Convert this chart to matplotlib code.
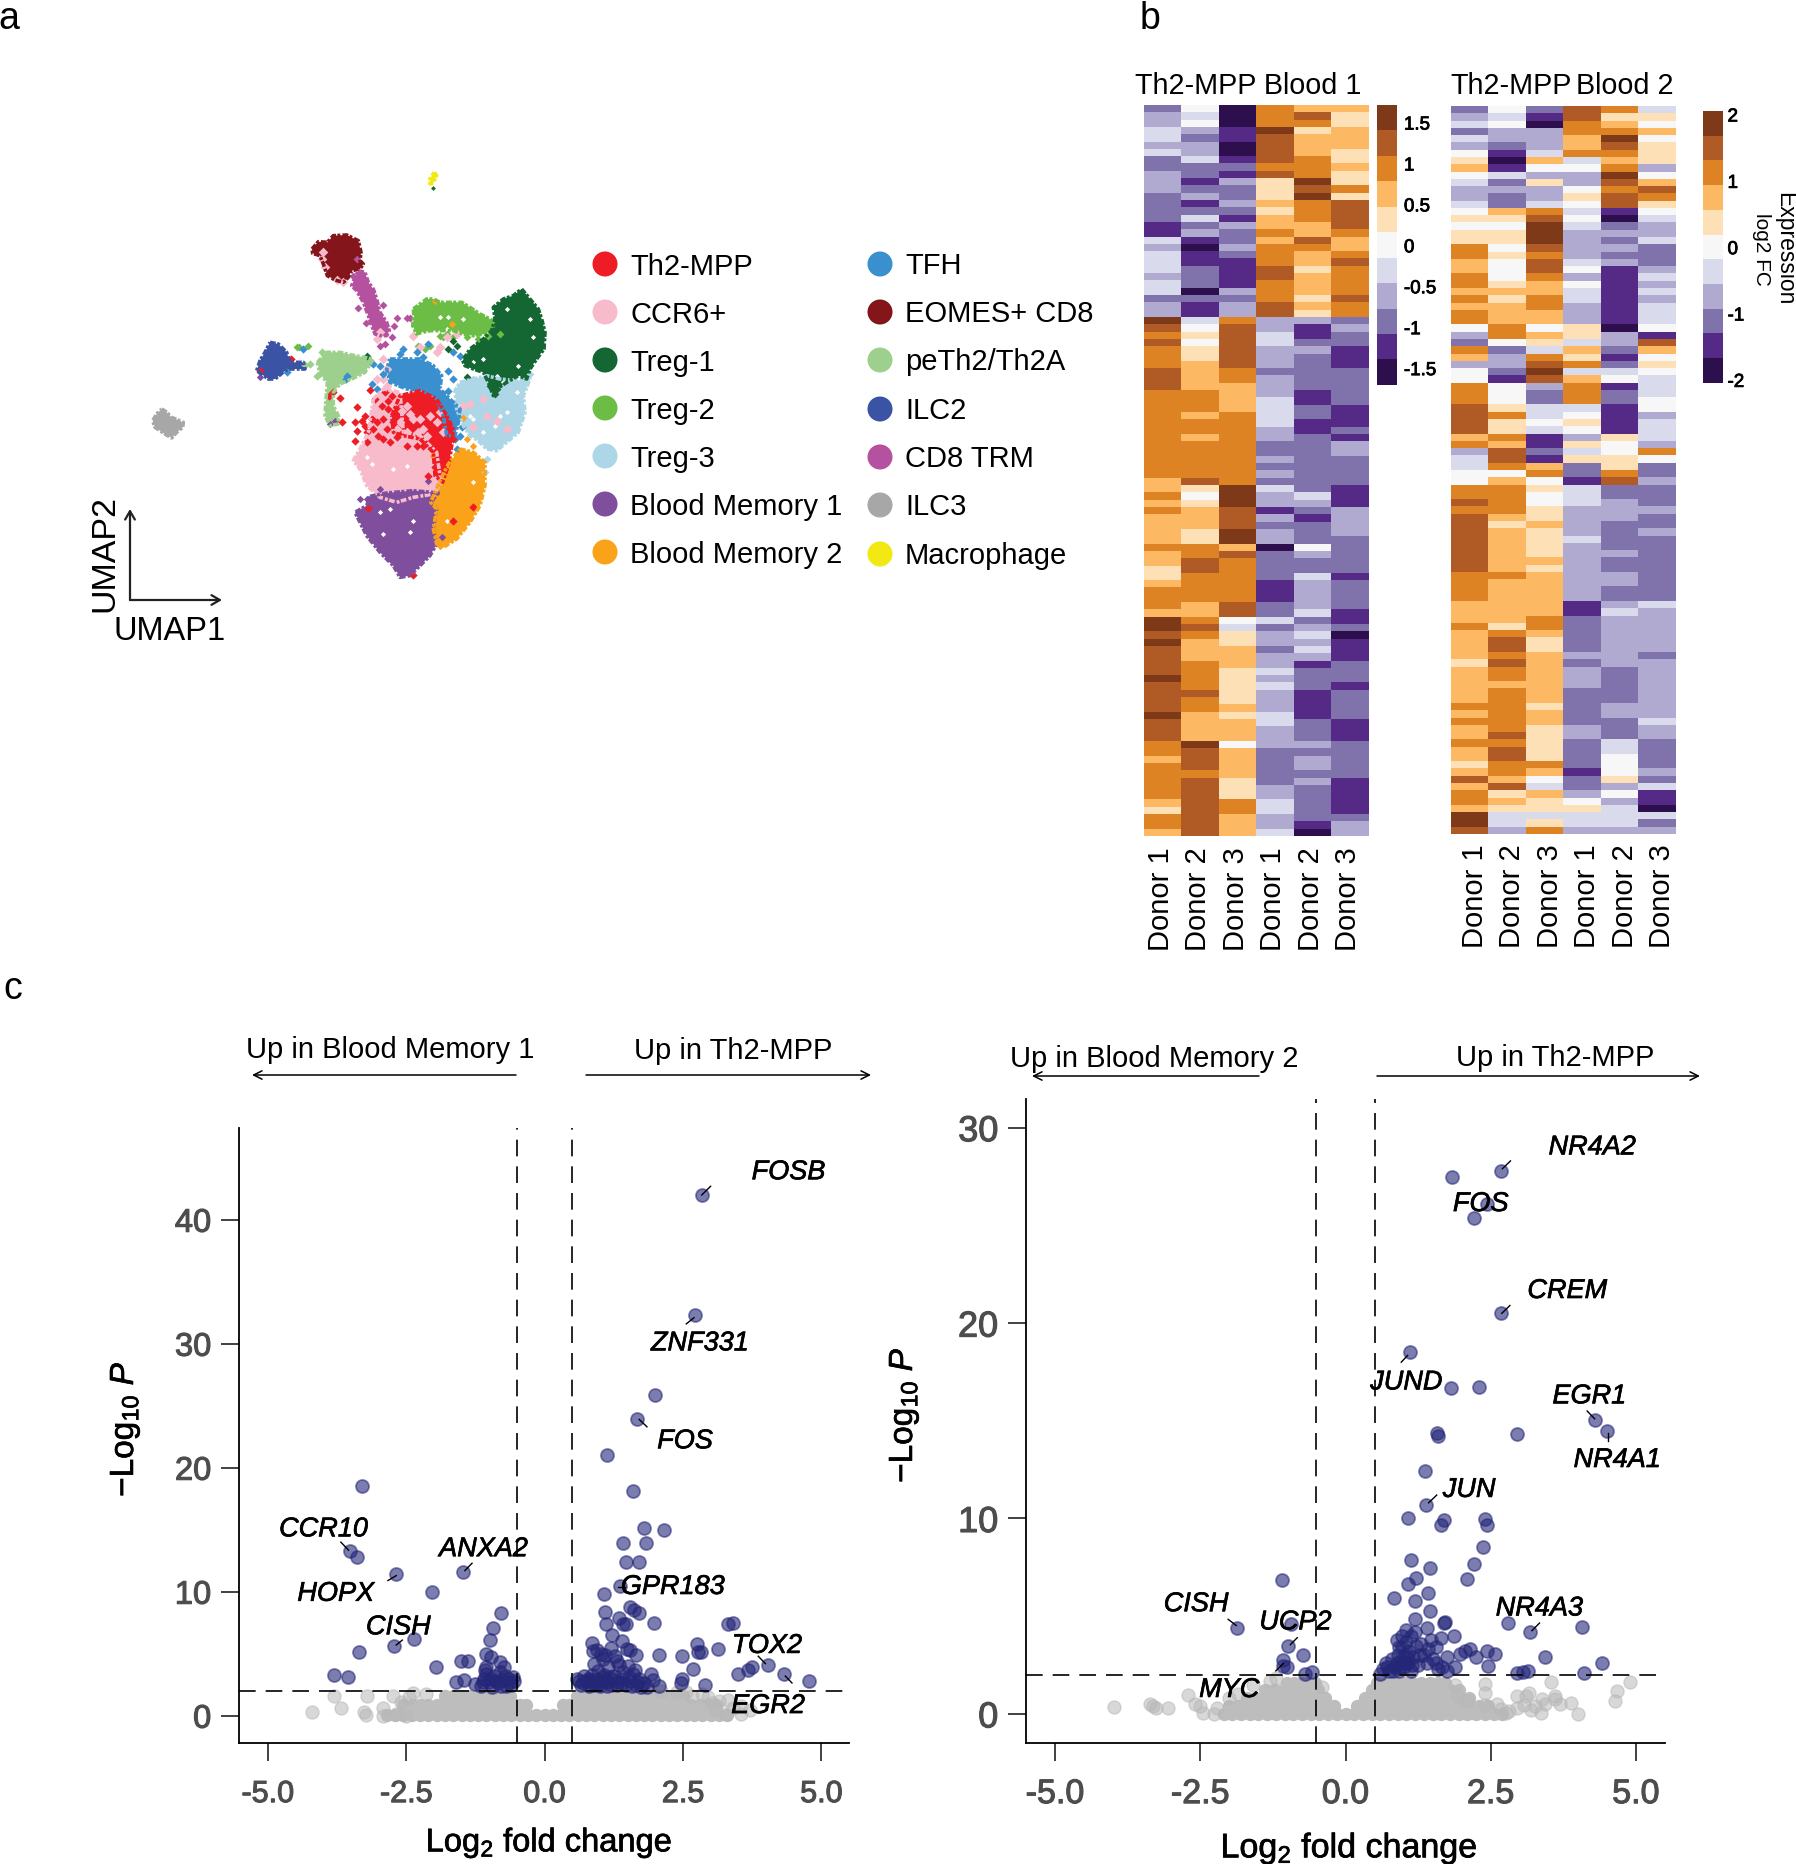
import re
import numpy as np
import matplotlib
matplotlib.use("Agg")
import matplotlib.pyplot as plt
from matplotlib.colors import ListedColormap
from matplotlib.patheffects import withStroke

plt.rcParams['font.family'] = ['Liberation Sans', 'DejaVu Sans']
plt.rcParams['mathtext.fontset'] = 'custom'
plt.rcParams['mathtext.rm'] = 'Liberation Sans'
plt.rcParams['mathtext.it'] = 'Liberation Sans:italic'
plt.rcParams['mathtext.bf'] = 'Liberation Sans:bold'

W, H = 1796, 1865

# ---------- heat map data: run-length coded levels (a = lowest ... k = highest) per column
level_letters = "abcdefghijk"
level_colors = ['#2d0f4e', '#542a86', '#8073ac', '#b0a9d0', '#d9daeb', '#f7f7f7',
                '#fde0b5', '#fdb863', '#dd8324', '#b05a25', '#7e3a18']
hm1_donors = ['Donor 1', 'Donor 2', 'Donor 3', 'Donor 1', 'Donor 2', 'Donor 3']
hm1_col1 = "c1 d2 e2 d1 e1 c2 d3 c4 b2 e1 d1 e3 d1 e2 c1 d2 k1 j1 i1 j1 i3 j3 i12 h2 i1 h1 i1 h4 i1 h2 g2 h1 i3 h1 k2 j1 k1 j4 k1 j4 k1 j3 i2 h1 i5 h1 g1 i2 h1"
hm1_col2 = "f1 e1 f1 d1 c1 d2 e1 c2 b1 c1 d1 b1 c1 e1 c1 d1 b1 a1 b2 c3 a1 c1 b2 e1 f1 g1 f1 g2 h4 i3 h1 i2 h1 i5 j1 g1 f1 g1 h3 g2 i2 j2 i4 h2 i1 j1 i1 h3 i4 j1 i2 h4 k1 j3 i1 j8"
hm1_col3 = "a3 b2 a2 b1 c1 b1 d1 c2 d1 c1 b1 d1 c2 d1 c1 b4 d1 c1 d2 i1 j6 i2 h4 i10 k3 j3 k2 h1 j1 i6 j2 f1 e1 g2 h3 g5 h1 g1 h3 f1 h4 g3 i2 h3"
hm1_col4 = "i3 k1 j4 i1 j1 g3 h1 g1 h2 i1 h1 i3 j2 i3 j2 d2 e2 d3 c1 d3 e4 d2 c2 d1 c1 d1 c1 e1 d2 b1 d1 c1 d2 a1 c4 b3 c2 e1 c1 d2 c1 d2 e1 d1 e1 d3 e2 d3 c5 d2 e2 d2 e1"
hm1_col5 = "h1 j1 i1 g1 h3 i3 k1 j1 k1 i3 h2 j1 i1 h2 g1 h3 g1 h1 g1 d1 b2 c1 d1 c5 b2 c2 b2 c8 e1 d1 c1 b1 c3 f1 d1 c2 e1 d4 e1 c1 d1 e1 d1 e1 d1 b1 c3 b4 c3 d1 c1 d2 c1 d1 c5 b1 a1"
hm1_col6 = "h1 g2 h3 g2 h1 g2 i1 g1 j4 i1 h2 i1 j1 i4 j1 i2 c1 d1 c2 b3 c5 b3 c1 b1 d2 c4 b3 d4 c5 b1 c4 b2 c1 a1 b3 c3 b1 c4 b3 c5 b5 c1 d2"
hm2_col1 = "c1 d1 e1 c1 e1 d1 f1 g1 h1 f1 e1 d2 e1 f1 g1 f1 g2 i2 h2 i2 h1 i1 h1 i2 f1 d1 c1 i1 h1 d1 f2 i3 j4 h1 i1 d1 e2 f2 i2 j1 i1 j8 i4 h3 i1 h4 g1 h5 i1 h1 i1 h2 i1 h2 g1 h1 j1 h1 i2 h1 k2 j1"
hm2_col2 = "f1 e1 f1 d2 c1 b1 a1 b1 e1 c1 d1 c2 h1 g1 f1 g2 f1 g1 f3 g1 h1 g1 h3 i2 f1 c1 d2 c1 b1 f3 g1 i1 g2 i1 h1 j2 i1 f1 h1 i4 h1 g1 h6 i1 h6 g1 i1 j2 i1 j1 i2 h1 i6 j1 i1 j2 i2 h1 j1 g1 h1 g1 e2 d1"
hm2_col3 = "c1 b1 a1 d3 e1 h1 f1 d1 g1 d2 e1 i1 j1 k3 j1 i1 j2 i1 h2 i2 h2 f1 h1 g1 e1 i1 j1 k1 j1 d1 c2 e2 f1 e1 b2 c1 b1 h1 i1 f1 g1 f2 g2 h1 g4 h1 g1 h6 i2 h1 g2 h7 g1 h2 g5 i1 h1 f1 e1 h1 g2 e1 g1 i1"
hm2_col4 = "j2 i2 h2 i1 e1 f1 d2 f1 g1 f1 e1 f1 e1 d4 e1 f1 d1 f1 e2 d3 g2 e1 h1 g1 i1 e1 h1 i3 e1 f1 g1 f1 d1 g1 e1 g1 c2 b1 e3 d4 e1 d8 b2 c5 d1 c1 d3 c5 d2 c4 b1 c2 d1 f1 g1 e2 d1"
hm2_col5 = "i1 g1 h1 i1 k1 j1 i1 h1 i1 k1 j1 i1 j2 b1 a1 c1 d1 c1 d1 c1 d1 b8 a1 d2 c1 b1 c1 e1 f1 b1 c2 b4 g1 f2 g2 i1 j1 c2 d3 c4 d1 c2 d2 c2 d1 e1 d7 c5 d2 c3 e2 f3 g1 d1 f1 d1 e3 d1"
hm2_col6 = "e1 g1 f1 h1 f1 g3 d1 f1 h1 j1 i1 g1 f1 e1 d2 e1 c3 d1 e1 d1 e1 d1 e3 f1 b1 j1 h1 f1 g1 f1 e3 f2 d1 e3 d1 i1 f1 c2 d1 c3 d1 c2 d1 c9 e1 d6 c1 d8 e1 d2 c4 d1 c1 e1 b2 a1 e1 c1 d1"

cbar1_ticks = [1.5, 1, 0.5, 0, -0.5, -1, -1.5]
cbar1_labels = ['1.5', '1', '0.5', '0', '-0.5', '-1', '-1.5']
cbar2_ticks = [2, 1, 0, -1, -2]
cbar2_labels = ['2', '1', '0', '-1', '-2']

# ---------- UMAP data: cluster outlines and stray cells (embedding, y grows downward)
legend_col1 = ['Th2-MPP', 'CCR6+', 'Treg-1', 'Treg-2', 'Treg-3', 'Blood Memory 1', 'Blood Memory 2']
legend_col1_colors = ['#ee1c25', '#f8bbcb', '#146633', '#6cbd45', '#add6e6', '#7f4e9c', '#f9a21a']
legend_col2 = ['TFH', 'EOMES+ CD8', 'peTh2/Th2A', 'ILC2', 'CD8 TRM', 'ILC3', 'Macrophage']
legend_col2_colors = ['#3a90cf', '#84151a', '#9ed08d', '#3a53a4', '#b5529f', '#a7a7a7', '#f2e814']

outline_eomes = [(216,90),(235,68),(262,70),(280,50),(320,48),(355,65),(363,100),(360,125),(370,135),(360,150),(335,155),(325,175),(310,190),(285,183),(262,170),(250,135),(240,110),(218,103)]
outline_trm = [(355,155),(375,160),(385,190),(400,210),(410,240),(420,280),(440,310),(448,335),(440,350),(420,350),(405,345),(395,320),(385,290),(370,250),(350,215),(335,200),(345,175)]
outline_treg2 = [(520,270),(540,255),(560,240),(580,240),(600,250),(630,250),(665,250),(690,265),(720,285),(760,305),(760,330),(735,345),(700,350),(670,345),(640,335),(600,335),(570,335),(545,340),(530,345),(518,320),(522,295)]
outline_treg3 = [(660,490),(740,470),(780,480),(830,485),(870,480),(850,530),(855,580),(835,640),(800,670),(770,695),(740,690),(715,665),(690,650),(670,620),(650,570),(645,515)]
outline_treg1 = [(845,210),(870,240),(895,270),(905,300),(915,340),(912,390),(890,420),(870,450),(860,480),(835,470),(800,490),(770,510),(760,530),(745,490),(730,460),(700,450),(675,440),(668,425),(690,390),(730,360),(755,335),(765,300),(760,265),(790,240),(820,230)]
outline_tfh = [(450,420),(490,420),(540,420),(580,440),(605,470),(600,510),(620,530),(660,570),(655,610),(645,650),(620,650),(610,590),(590,540),(550,515),(500,510),(450,490),(440,450)]
outline_ccr6 = [(400,540),(430,510),(480,520),(490,640),(540,650),(590,700),(600,770),(605,790),(580,825),(520,835),(470,850),(420,835),(380,800),(360,750),(340,725),(360,690),(385,640)]
outline_th2 = [(455,590),(480,530),(540,515),(590,540),(620,590),(640,630),(635,680),(628,730),(608,790),(585,770),(580,700),(540,660),(490,650),(460,640)]
outline_bm2 = [(660,690),(700,700),(735,730),(735,800),(720,860),(690,910),(650,960),(610,985),(590,975),(580,930),(590,870),(572,850),(600,785),(625,735)]
outline_bm1 = [(390,832),(440,822),(520,815),(595,822),(572,850),(590,870),(580,930),(590,975),(570,1010),(530,1050),(510,1070),(480,1075),(460,1040),(420,1000),(380,950),(345,880),(380,860)]
outline_peth2 = [(232,430),(260,400),(300,400),(345,410),(400,420),(375,460),(335,480),(300,495),(280,520),(280,560),(295,590),(295,615),(270,620),(255,590),(258,540),(262,490),(240,465)]
outline_ilc2 = [(90,370),(115,375),(140,400),(150,430),(190,430),(195,450),(150,450),(135,455),(105,480),(85,480),(50,455),(60,425),(75,400)]
outline_ilc3 = [(-235,570),(-222,578),(-205,595),(-170,610),(-172,625),(-190,640),(-205,657),(-225,645),(-255,625),(-262,605),(-250,585)]
outline_macro = [(583,-140),(590,-130),(580,-108),(570,-105),(570,-122)]

stray_pink = [(420,535),(410,580),(500,560),(520,600),(570,590),(590,610),(500,640),(535,640),(520,660),(430,420),(440,450),(430,480),(410,480),(440,500),(590,400),(600,385),(620,355),(650,345),(520,350),(540,385),(690,555),(730,540),(740,590),(700,625),(770,605),(800,630),(670,560),(250,100),(245,120),(255,145),(290,182),(310,188),(420,340),(410,360),(470,545),(485,575),(510,585),(550,630),(560,650),(610,640),(480,610),(470,630),(600,580),(540,600)]
stray_red = [(350,565),(345,610),(365,605),(350,635),(345,665),(380,640),(405,540),(390,512),(435,520),(470,655),(450,670),(430,660),(380,670),(280,520),(268,532),(300,537),(307,610),(60,457),(152,420),(565,770),(520,1067),(640,905),(700,865),(385,868),(600,680),(590,720),(585,745),(620,700),(640,660),(375,590),(395,600),(410,610),(430,600),(445,570),(425,560),(455,530),(440,630),(400,630),(415,650),(375,620),(460,610),(445,545),(550,680),(530,680),(500,680),(575,690)]
stray_blue = [(400,435),(395,495),(410,510),(490,390),(480,405),(530,400),(565,375),(550,415),(640,400),(660,410),(625,455),(640,480),(625,515),(320,470),(318,480),(660,650),(650,690),(645,660),(140,458),(190,390),(635,560),(655,595),(665,625),(430,465),(420,440)]
stray_white = [(700,600),(690,590),(780,590),(800,580),(730,640),(765,620),(830,520),(660,560),(800,270),(870,300),(880,355),(835,440),(770,470),(730,420),(700,430),(790,490),(460,750),(500,740),(395,735),(380,715),(360,780),(430,945),(520,905),(450,870),(510,940),(420,880),(620,905),(700,790),(600,295),(625,295),(670,300),(620,330)]
stray_treg1 = [(680,420),(720,440),(650,380),(625,390),(680,475),(770,510),(382,412),(640,365),(700,400),(750,500),(765,525),(720,400),(690,435)]
stray_purple = [(360,840),(380,840),(450,1020),(270,615),(285,605),(60,475),(510,1030),(420,810),(565,785),(605,955)]
stray_trm = [(355,268),(430,258),(378,312),(462,320),(455,355),(470,296),(500,296),(510,298),(435,375),(420,380),(340,170),(352,120)]
stray_orange = [(585,245),(636,316),(680,660),(700,680),(668,597),(580,712),(600,980)]
stray_treg2 = [(610,355),(640,355),(715,360),(780,345),(170,385),(178,385),(205,380),(555,390),(535,380),(570,380),(600,350),(620,345),(680,355),(745,350)]
stray_peth2 = [(245,400),(232,470),(210,435),(195,437),(270,555)]
stray_treg3 = [(740,720),(735,760),(870,465),(690,520),(660,520),(700,480)]
stray_macro_green = [(579,-92)]
umap_arrow_x = [0, 92]
umap_arrow_y = [0, 91]

# ---------- volcano data, left panel
v1_xticks = [-5.0, -2.5, 0.0, 2.5, 5.0]
v1_yticks = [0, 10, 20, 30, 40]
v1_blue = [(2.84,42),(2.72,32.3),(2.0,25.9),(1.67,23.9),(1.12,21),(1.6,18.1),(1.79,15.1),(2.16,15.0),(1.41,13.9),(1.84,13.9),(1.48,12.4),(1.7,12.4),(1.37,10.5),(1.08,9.8),(1.54,8.8),(1.61,8.5),(1.71,8.3),(1.1,8.4),(1.35,7.9),(1.11,7.4),(1.98,7.5),(1.41,7.4),(1.48,7.4),(1.22,6.5),(3.31,7.4),(3.4,7.5),(.86,5.9),(1.4,6.0),(2.75,5.8),(3.13,5.4),(2.77,5.1),(2.83,5.1),(2.49,4.8),(2.07,4.9),(1.49,5.4),(1.54,5.3),(1.66,4.9),(1.2,5.5),(2.68,3.8),(4.03,4.1),(3.75,3.9),(3.68,3.7),(3.49,3.35),(4.33,3.35),(4.77,2.8),(2.89,2.5),(2.48,2.95),(2.46,2.6),(1.93,3.4),(1.63,3.7),(1.96,2.9),(2.06,2.4),
           (-3.3,18.5),(-3.52,13.3),(-3.39,12.8),(-2.68,11.4),(-1.47,11.6),(-2.03,10),(-.79,8.3),(-.93,7.1),(-.98,6.1),(-2.35,6.2),(-2.72,5.6),(-3.36,5.1),(-3.8,3.3),(-3.55,3.1),(-1.96,3.9),(-1.51,4.4),(-1.38,4.4),(-1.06,5),(-.97,4.7),(-.8,4.3),(-.73,3.9),(-1.6,2.75),(-1.45,2.9),(-1.07,3.7),(-1.05,3.9),(-.57,3.15),(-1.26,2.55),
           (-1.15,2.4),(-1.1,3.0),(-1.05,3.4),(-1.0,2.7),(-.95,2.3),(-.9,3.2),(-.85,2.6),(-.8,3.5),(-.75,2.9),(-.7,2.4),(-.65,3.0),(-.6,2.5),(-.55,2.8),(-1.12,2.7),(-.98,3.0),(-.88,2.8),(-.78,2.4),(-.72,3.2),(-.62,2.7),
           (.58,3.0),(.65,2.5),(.72,3.2),(.8,2.4),(.85,3.3),(.9,4.2),(.92,2.7),(.97,3.6),(1.0,2.4),(1.02,5.0),(1.05,4.6),(1.08,3.3),(1.1,2.8),(1.15,3.9),(1.2,2.5),(1.25,3.2),(1.27,4.8),(1.3,4.4),(1.35,4.1),(1.4,2.6),(1.42,3.5),(1.5,4.0),(1.55,2.8),(1.6,3.4),(1.65,2.5),(1.7,3.0),(1.75,2.3),(1.8,2.6),(.88,5.2),(.95,5.3),(1.1,4.9),(.62,2.8),(.7,2.6),(.78,3.0),(.88,2.6),(.95,3.0),(1.03,2.8),(1.12,2.4),(1.18,3.1),(1.33,2.7),(1.47,2.5),(1.58,2.4),(1.85,2.3),(.75,2.8),(.83,2.9),(.9,2.45),(.98,2.6),(1.05,3.1),(1.15,2.7),(1.22,2.9),(1.3,2.5),(1.4,3.0),(1.52,3.1),(1.68,2.7)]
v1_gray_fringe = [(-4.2,.3),(-3.81,1.57),(-3.67,.6),(-3.2,1.57),(-3.27,.28),(-3.23,.08),(-2.92,0),(-2.92,.6),(-2.69,.12),(-2.51,0),(-2.74,1.57),(-2.37,1.85),(-2.14,1.77),(-2.6,1.1),(-2.45,1.5),(3.32,1.3),(3.27,.12),(3.54,.12),(3.72,.5),(3.03,1),(3.16,1.18),(2.84,1.77),(2.66,1.57),(3.55,.8),(2.1,1.97),(3.4,.6),(2.95,1.5),(3.1,.5),(2.4,1.9),(2.55,1.95)]
v1_gray_row0_x = [-2.85,-2.7,-2.55,-2.4,-2.25,-2.1,-1.95,-1.8,-1.65,-1.5,-1.35,-1.2,-1.05,-.9,-.75,-.6,-.45,-.3,-.15,0,.15,.3,.45,.6,.75,.9,1.05,1.2,1.35,1.5,1.65,1.8,1.95,2.1,2.25,2.4,2.55,2.7,2.85,3.0,3.15,3.3]
v1_gray_row1_x = [-2.55,-2.4,-2.25,-2.1,-1.95,-1.8,-1.65,-1.5,-1.35,-1.2,-1.05,-.9,-.75,-.6,-.45,-.33,.33,.45,.55,.7,.85,1.0,1.15,1.3,1.45,1.6,1.75,1.9,2.05,2.2,2.35,2.5,2.65,2.8,2.95,3.1]
v1_gray_row2_x = [-1.8,-1.65,-1.5,-1.35,-1.2,-1.05,-.9,-.75,-.62,.58,.7,.85,1.0,1.15,1.3,1.45,1.6,1.75,1.9,2.05,2.2,2.35,2.5]
v1_labels = ['FOSB','ZNF331','FOS','CCR10','ANXA2','HOPX','GPR183','CISH','TOX2','EGR2']
v1_label_x = [4.41,2.81,2.54,-3.99,-1.1,-3.77,2.32,-2.64,4.02,4.04]
v1_label_y = [44,30.2,22.3,15.2,13.6,10,10.55,7.3,5.8,.95]
v1_leaders = [(3.0,42.7,2.84,42),(2.56,31.6,2.7,32.1),(1.85,23.3,1.71,23.9),(-3.68,14,-3.54,13.35),(-1.31,12.3,-1.44,11.7),(-2.83,10.9,-2.68,11.3),(1.32,10.35,1.46,10.35),(-2.57,6.1,-2.68,5.7),(3.86,4.8,3.99,4.2),(4.47,2.64,4.35,3.2)]

# ---------- volcano data, right panel
v2_xticks = [-5.0, -2.5, 0.0, 2.5, 5.0]
v2_yticks = [0, 10, 20, 30]
v2_blue = [(2.68,27.8),(1.84,27.5),(2.43,26.1),(2.22,25.4),(2.67,20.5),(1.11,18.5),(1.82,16.7),(2.29,16.75),(4.3,15.05),(4.51,14.5),(2.96,14.3),(1.58,14.4),(1.6,14.2),(1.37,12.45),(1.39,10.7),(1.08,10),(1.69,9.9),(1.65,9.65),(2.4,9.95),(2.43,9.65),(2.37,8.55),(1.12,7.87),(2.21,7.66),(1.45,7.47),(2.1,6.9),(1.21,6.97),(1.07,6.65),(1.42,6.2),(.84,5.93),(1.2,5.8),(1.46,5.27),(1.2,4.87),(1.71,4.7),(1.69,4.63),(2.8,4.63),(4.07,4.44),(3.18,4.18),(1.05,4.3),(1.4,4.4),(1.86,4.0),(3.44,2.93),(4.41,2.63),(4.11,2.07),(3.14,2.2),(3.05,2.15),(2.96,2.1),(2.46,2.47),(2.44,3.2),(2.57,3.06),(2.25,2.93),(2.15,3.32),(2.06,3.2),(1.97,3.06),(1.89,2.4),(1.66,2.4),
           (-1.86,4.4),(-1.09,6.83),(-.93,4.6),(-.99,3.46),(-.74,3.0),(-1.07,2.74),(-1.08,2.47),(-.58,2.13),(-.69,2.05),(-1.01,2.4),
           (.65,2.3),(.7,2.6),(.75,2.2),(.8,2.8),(.85,2.4),(.9,3.0),(.92,2.2),(.95,2.7),(.97,3.4),(1.0,2.4),(1.02,3.0),(1.05,3.7),(1.08,2.6),(1.1,3.2),(1.13,2.2),(1.17,2.9),(1.2,4.2),(1.22,3.5),(1.25,2.5),(1.3,3.6),(1.35,3.0),(1.42,3.3),(1.48,3.8),(1.5,2.8),(1.55,3.4),(1.6,2.3),(1.65,3.9),(1.75,2.2),(.88,3.8),(.98,4.0),(1.12,4.0),(.6,2.05),(.72,2.4),(.82,2.2),(.88,2.6),(.94,2.4),(1.02,2.6),(1.06,2.9),(1.15,2.5),(1.28,3.0),(1.4,2.6),(1.55,2.6),(1.75,2.9),(.92,3.4)]
v2_gray_fringe = [(-3.99,.35),(-3.37,.53),(-3.31,.4),(-3.26,.32),(-3.06,.32),(-2.71,.96),(-2.59,.53),(-2.5,.4),(-2.45,.05),(-2.27,0),(-2.21,.32),(-2.0,.8),(-1.85,1.0),(-1.6,1.5),(-1.3,1.7),(-1.2,1.85),(-.4,1.4),(4.9,1.65),(4.67,1.17),(4.64,.64),(3.53,1.65),(3.89,.58),(4.0,0),(3.69,.53),(3.61,.9),(3.39,.74),(3.36,.05),(3.16,1.06),(2.96,.9),(3.07,.48),(2.81,.13),(2.68,.27),(2.6,.53),(2.41,1.54),(2.41,1.06),(1.93,.93),(2.1,.66),(1.88,1.46),(2.76,.05),(2.41,.45),(3.44,.5),(3.26,.4),(3.6,.75),(2.95,.3),(3.1,.9),(3.2,.2)]
v2_gray_row0_x = [-2.1,-1.95,-1.8,-1.65,-1.5,-1.35,-1.2,-1.05,-.9,-.75,-.6,-.45,-.3,-.15,0,.15,.3,.45,.6,.75,.9,1.05,1.2,1.35,1.5,1.65,1.8,1.95,2.1,2.25,2.4,2.55,2.7]
v2_gray_row1_x = [-2.0,-1.85,-1.7,-1.55,-1.4,-1.25,-1.1,-.95,-.8,-.65,-.5,-.35,-.2,.2,.35,.5,.65,.8,.95,1.1,1.25,1.4,1.55,1.7,1.85,2.0,2.15,2.3,2.45]
v2_gray_row2_x = [-1.7,-1.55,-1.4,-1.25,-1.1,-.95,-.8,-.65,-.5,-.35,.33,.48,.63,.78,.93,1.08,1.23,1.38,1.53,1.68,1.83,1.98,2.13]
v2_gray_row3_x = [-1.38,-1.23,-1.08,-.93,-.78,-.63,-.48,.45,.6,.75,.9,1.05,1.2,1.35,1.5,1.65,1.8,1.95]
v2_gray_row4_x = [-1.0,-.88,-.76,-.64,-.52,.55,.7,.85,1.0,1.15,1.3,1.45,1.6,1.72]
v2_labels = ['NR4A2','FOS','CREM','JUND','EGR1','NR4A1','JUN','NR4A3','CISH','UCP2','MYC']
v2_label_x = [4.25,2.33,3.82,1.05,4.2,4.68,2.13,3.34,-2.57,-.86,-2.0]
v2_label_y = [29.1,26.2,21.75,17.07,16.36,13.1,11.57,5.5,5.72,4.79,1.33]
v2_leaders = [(2.84,28.3,2.7,27.9),(2.83,20.9,2.69,20.5),(.96,18,1.07,18.35),(4.16,15.5,4.29,15.1),(4.52,13.96,4.52,14.36),(1.57,11.2,1.43,10.8),(3.34,4.65,3.21,4.26),(-2.02,4.84,-1.88,4.52),(-.83,3.9,-.95,3.54),(-1.2,2.2,-1.07,2.58)]


def decode(rle):
    out = []
    for m in re.finditer(r'([a-k])(\d+)', rle):
        out += [level_letters.index(m.group(1))] * int(m.group(2))
    return out


def pax(x0, y0, x1, y1, **kw):
    return fig.add_axes([x0 / W, 1 - y1 / H, (x1 - x0) / W, (y1 - y0) / H], **kw)


def stroke(color='black', lw=0.6):
    return [withStroke(linewidth=lw, foreground=color)]


fig = plt.figure(figsize=(W / 100, H / 100), dpi=100, facecolor='white')
cmap = ListedColormap(level_colors)

# ---------- panel a
ua = pax(140, 160, 565, 590)
ua.set_xlim(-300, 975)
ua.set_ylim(1110, -180)
ua.axis('off')
polys = [(outline_eomes, '#84151a'), (outline_trm, '#b5529f'), (outline_treg2, '#6cbd45'), (outline_treg3, '#add6e6'),
         (outline_treg1, '#146633'), (outline_tfh, '#3a90cf'), (outline_ccr6, '#f8bbcb'), (outline_th2, '#ee1c25'),
         (outline_bm1, '#7f4e9c'), (outline_bm2, '#f9a21a'), (outline_peth2, '#9ed08d'), (outline_ilc2, '#3a53a4'),
         (outline_ilc3, '#a7a7a7'), (outline_macro, '#f2e814')]
for pts, c in polys:
    xs, ys = zip(*pts)
    ua.fill(xs, ys, color=c, lw=0)
    # uneven rim of the same colour gives the outline the grain of single cells
    ua.plot(list(xs) + [xs[0]], list(ys) + [ys[0]], color=c, lw=2.6, dashes=(1.6, 0.4, 0.8, 0.6))
strays = [(stray_white, 'white', 7), (stray_treg2, '#6cbd45', 16), (stray_treg3, '#add6e6', 16), (stray_trm, '#b5529f', 16),
          (stray_pink, '#f8bbcb', 24), (stray_blue, '#3a90cf', 18), (stray_treg1, '#146633', 16), (stray_peth2, '#9ed08d', 18),
          (stray_purple, '#7f4e9c', 14), (stray_orange, '#f9a21a', 14), (stray_red, '#ee1c25', 18), (stray_macro_green, '#146633', 6)]
for pts, c, s in strays:
    xs, ys = zip(*pts)
    ua.scatter(xs, ys, s=s, color=c, marker='D', linewidths=0)

# overlay in figure pixels for free-standing text and arrows
ov = fig.add_axes([0, 0, 1, 1], zorder=20)
ov.set_xlim(0, W)
ov.set_ylim(H, 0)
ov.axis('off')
ov.patch.set_alpha(0)

ov.text(9, 19, 'a', fontsize=27, ha='center', va='center')
ov.text(1150, 19, 'b', fontsize=27, ha='center', va='center')
ov.text(13, 989, 'c', fontsize=27, ha='center', va='center')

ov.text(170, 632, 'UMAP1', fontsize=23.5, ha='center', va='center', color='black')
ov.text(105, 554, 'UMAP2', fontsize=24.5, rotation=90, ha='center', va='center')
arrow_kw = dict(arrowstyle='->,head_width=0.35,head_length=0.6', lw=1.6, color='#222222', shrinkA=0, shrinkB=0)
ov.annotate('', xy=(130 + umap_arrow_x[1], 601), xytext=(130, 601), arrowprops=arrow_kw)
ov.annotate('', xy=(130, 601 - umap_arrow_y[1]), xytext=(130, 601), arrowprops=arrow_kw)

leg_y1 = [265, 313, 361, 409, 457, 505, 553]
leg_y2 = [265, 313, 361, 410, 458, 506, 555]
ov.scatter([605] * 7, leg_y1, s=325, c=legend_col1_colors, linewidths=0)
ov.scatter([880] * 7, leg_y2, s=325, c=legend_col2_colors, linewidths=0)
for y, t in zip(leg_y1, legend_col1):
    ov.text(630, y + 2, t, fontsize=21, va='center')
for y, t in zip(leg_y2, legend_col2):
    ov.text(905, y + 1, t, fontsize=21, va='center')

# ---------- panel b
hm1 = np.array([decode(c) for c in (hm1_col1, hm1_col2, hm1_col3, hm1_col4, hm1_col5, hm1_col6)]).T
hm2 = np.array([decode(c) for c in (hm2_col1, hm2_col2, hm2_col3, hm2_col4, hm2_col5, hm2_col6)]).T
for box, mat, tick_off, pad in [((1144, 106, 1369, 837), hm1, -0.05, 7.5), ((1451, 107, 1676, 835), hm2, 0.13, 7)]:
    a = pax(*box)
    a.imshow(mat, aspect='auto', cmap=cmap, vmin=-0.5, vmax=10.5, interpolation='nearest')
    for s in a.spines.values():
        s.set_visible(False)
    a.set_yticks([])
    a.set_xticks(np.arange(6) + tick_off, hm1_donors, rotation=90, fontsize=21)
    a.tick_params(axis='x', length=0, pad=pad)

ov.text(1135, 86, 'Th2-MPP Blood 1', fontsize=20.7, ha='left', va='center')
ov.text(1450, 86, 'Th2-MPP', fontsize=20.7, ha='left', va='center')
ov.text(1674, 86, 'Blood 2', fontsize=20.7, ha='right', va='center')

cb1 = pax(1377, 106, 1397, 386)
cb1.imshow(np.arange(10, -1, -1).reshape(-1, 1), aspect='auto', cmap=cmap, vmin=-0.5, vmax=10.5,
           extent=[0, 1, -1.70, 1.72], interpolation='nearest')
cb1.set_xticks([])
cb1.yaxis.tick_right()
cb1.set_yticks(cbar1_ticks, cbar1_labels, fontsize=13.5)
cb1.tick_params(axis='y', length=0, pad=5)
for s in cb1.spines.values():
    s.set_visible(False)
for t in cb1.get_yticklabels():
    t.set_path_effects(stroke())

cb2 = pax(1703, 112, 1722, 384)
cb2.imshow(np.arange(10, -1, -1).reshape(-1, 1), aspect='auto', cmap=cmap, vmin=-0.5, vmax=10.5,
           extent=[0, 1, -2.04, 2.06], interpolation='nearest')
cb2.set_xticks([])
cb2.yaxis.tick_right()
cb2.set_yticks(cbar2_ticks, cbar2_labels, fontsize=13.5)
cb2.tick_params(axis='y', length=0, pad=4)
for s in cb2.spines.values():
    s.set_visible(False)
for t in cb2.get_yticklabels():
    t.set_path_effects(stroke())
ov.text(1785, 249, 'Expression', fontsize=16.5, rotation=270, ha='center', va='center')
ov.text(1761, 249, 'log2 FC', fontsize=15, rotation=270, ha='center', va='center')

# ---------- panel c
navy = (0.14, 0.15, 0.47)


def volcano(box, xlim, ylim, blue, fringe, rows, labels, lx, ly, leaders, xticks, yticks, rowy, tick_size):
    a = pax(*box)
    a.set_xlim(*xlim)
    a.set_ylim(*ylim)
    for r, y in zip(rows, rowy):
        a.scatter(r, [y] * len(r), s=92, color='#bdbdbd', linewidths=0, zorder=2)
    fx, fy = zip(*fringe)
    a.scatter(fx, fy, s=88, facecolor=(0.72, 0.72, 0.72, 0.55), edgecolor=(0.72, 0.72, 0.72, 0.55), linewidths=1, zorder=2)
    bx, by = zip(*blue)
    a.scatter(bx, by, s=88, facecolor=navy + (0.6,), edgecolor=navy + (0.55,), linewidths=1.3, zorder=3)
    a.axhline(2, color='black', lw=1.2, dashes=(10, 6), zorder=4)
    a.axvline(-0.5, color='black', lw=1.2, dashes=(10, 6), zorder=4)
    a.axvline(0.5, color='black', lw=1.2, dashes=(10, 6), zorder=4)
    for x0, y0, x1, y1 in leaders:
        a.plot([x0, x1], [y0, y1], color='black', lw=1, zorder=5)
    for t, x, y in zip(labels, lx, ly):
        a.annotate(t, (x, y), xytext=(0, -1.5), textcoords='offset points', fontsize=19.5, style='italic',
                   ha='center', va='center', zorder=6, path_effects=stroke(lw=0.5))
    for s in ('top', 'right'):
        a.spines[s].set_visible(False)
    for s in ('left', 'bottom'):
        a.spines[s].set_linewidth(1.3)
    a.set_xticks(xticks, ['%.1f' % v for v in xticks])
    a.set_yticks(yticks, [str(v) for v in yticks])
    a.tick_params(axis='x', length=13, width=1.3, color='#333333', labelsize=tick_size, labelcolor='#4d4d4d', pad=13)
    a.tick_params(axis='y', length=13, width=1.3, color='#333333', labelsize=tick_size + 1.5, labelcolor='#4d4d4d', pad=7)
    for t in a.get_xticklabels() + a.get_yticklabels():
        t.set_path_effects(stroke('#4d4d4d', 0.8))
    return a


volcano((239, 1129, 849, 1744), (-5.52, 5.5), (-2.2, 47.4), v1_blue, v1_gray_fringe,
        [v1_gray_row0_x, v1_gray_row1_x, v1_gray_row2_x], v1_labels, v1_label_x, v1_label_y, v1_leaders,
        v1_xticks, v1_yticks, [0.05, 0.85, 1.6], 22)
volcano((1026, 1100, 1665, 1744), (-5.5, 5.5), (-1.49, 31.47), v2_blue, v2_gray_fringe,
        [v2_gray_row0_x, v2_gray_row1_x, v2_gray_row2_x, v2_gray_row3_x, v2_gray_row4_x], v2_labels, v2_label_x, v2_label_y, v2_leaders,
        v2_xticks, v2_yticks, [0.0, 0.4, 0.8, 1.2, 1.6], 24.5)

ov.text(549, 1844, r'Log$_2$ fold change', fontsize=23.5, ha='center', va='center', path_effects=stroke(lw=0.5))
ov.text(1349, 1850, r'Log$_2$ fold change', fontsize=24.5, ha='center', va='center', path_effects=stroke(lw=0.5))
ov.text(125, 1430, r'$-$Log$_{10}$ $P$', fontsize=24, rotation=90, ha='center', va='center', path_effects=stroke(lw=0.5))
ov.text(904, 1416, r'$-$Log$_{10}$ $P$', fontsize=24, rotation=90, ha='center', va='center', path_effects=stroke(lw=0.5))

thin = dict(arrowstyle='->,head_width=0.3,head_length=0.6', lw=1.1, color='black', shrinkA=0, shrinkB=0)
ov.text(390, 1050, 'Up in Blood Memory 1', fontsize=21, ha='center', va='center')
ov.text(733, 1051, 'Up in Th2-MPP', fontsize=21, ha='center', va='center')
ov.text(1154, 1059, 'Up in Blood Memory 2', fontsize=21, ha='center', va='center')
ov.text(1555, 1058, 'Up in Th2-MPP', fontsize=21, ha='center', va='center')
ov.annotate('', xy=(252, 1076), xytext=(516, 1076), arrowprops=thin)
ov.annotate('', xy=(871, 1076), xytext=(586, 1076), arrowprops=thin)
ov.annotate('', xy=(1032, 1077), xytext=(1259, 1077), arrowprops=thin)
ov.annotate('', xy=(1700, 1077), xytext=(1377, 1077), arrowprops=thin)

fig.savefig('out.png', dpi=100, facecolor='white')
